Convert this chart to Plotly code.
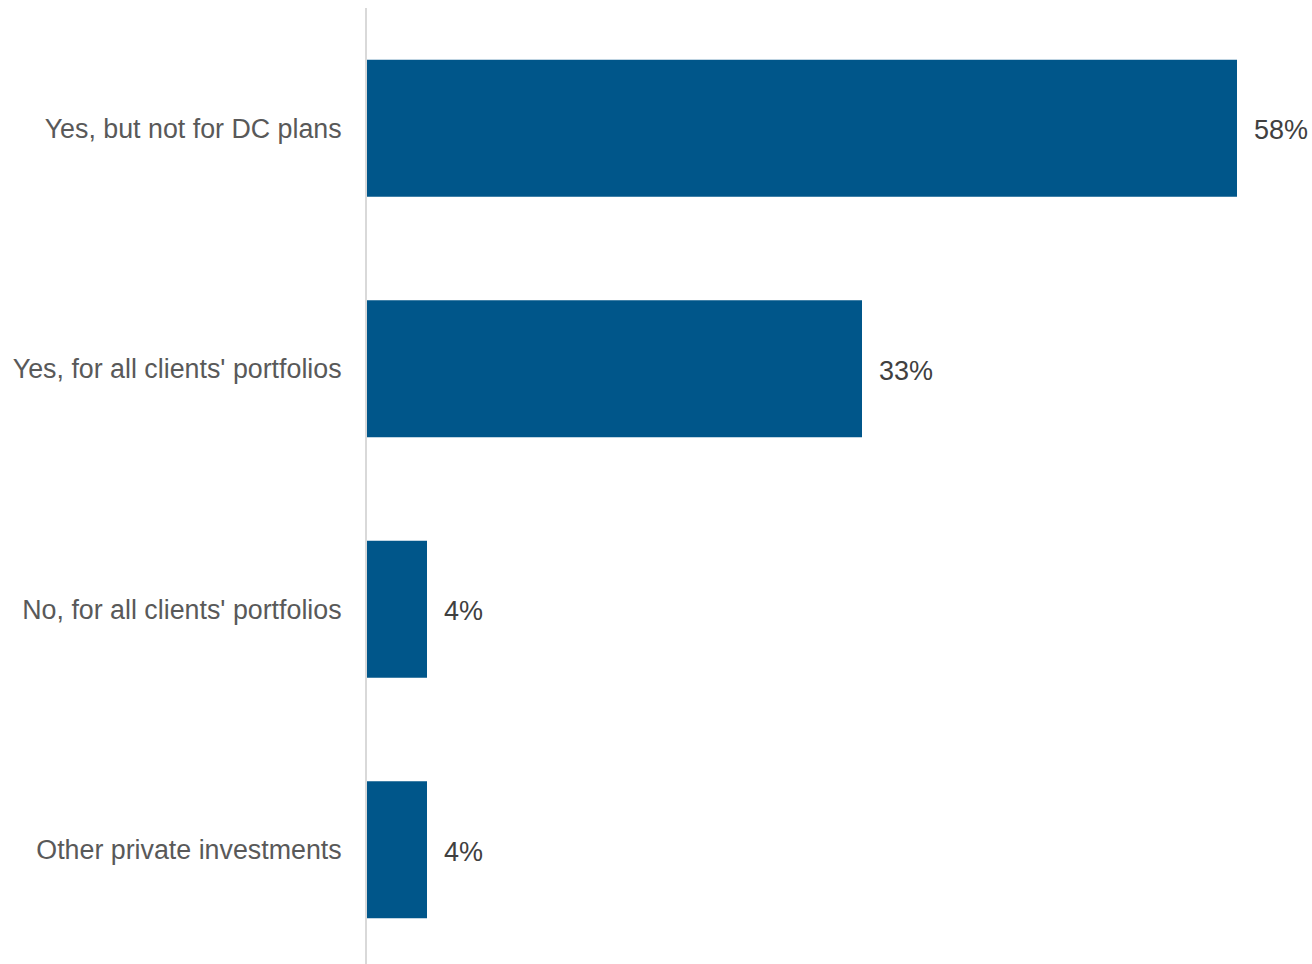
import plotly.graph_objects as go

categories = ["Yes, but not for DC plans", "Yes, for all clients' portfolios",
              "No, for all clients' portfolios", "Other private investments"]
values = [58, 33, 4, 4]
value_labels = ["58%", "33%", "4%", "4%"]

bar_color = "#00568A"

fig = go.Figure(go.Bar(
    x=values,
    y=categories,
    orientation="h",
    marker=dict(color=bar_color, line=dict(width=0)),
    width=0.57,
))

for v, c, t in zip(values, categories, value_labels):
    fig.add_annotation(x=v, y=c, text=t, showarrow=False,
                       xanchor="left", xshift=15, yshift=-2,
                       font=dict(family="Liberation Sans, Arial", size=27, color="#404040"))

fig.update_layout(
    width=1312, height=964,
    margin=dict(l=367, r=15, t=8, b=0, autoexpand=False),
    plot_bgcolor="white", paper_bgcolor="white",
    showlegend=False,
    xaxis=dict(range=[0, 62], visible=False, showgrid=False, zeroline=False),
    yaxis=dict(
        categoryorder="array", categoryarray=categories,
        range=[3.475, -0.5],
        showline=True, linecolor="#D9D9D9", linewidth=2,
        showgrid=False, zeroline=False,
        ticks="", ticklabelstandoff=18,
        tickfont=dict(family="Liberation Sans, Arial", size=26.8, color="#595959"),
    ),
)

# drop the default 8px body margin so the figure fills the window exactly
fig.write_html("out.html", config={"displayModeBar": False},
               post_script="document.body.style.margin='0';document.body.style.overflow='hidden';")
